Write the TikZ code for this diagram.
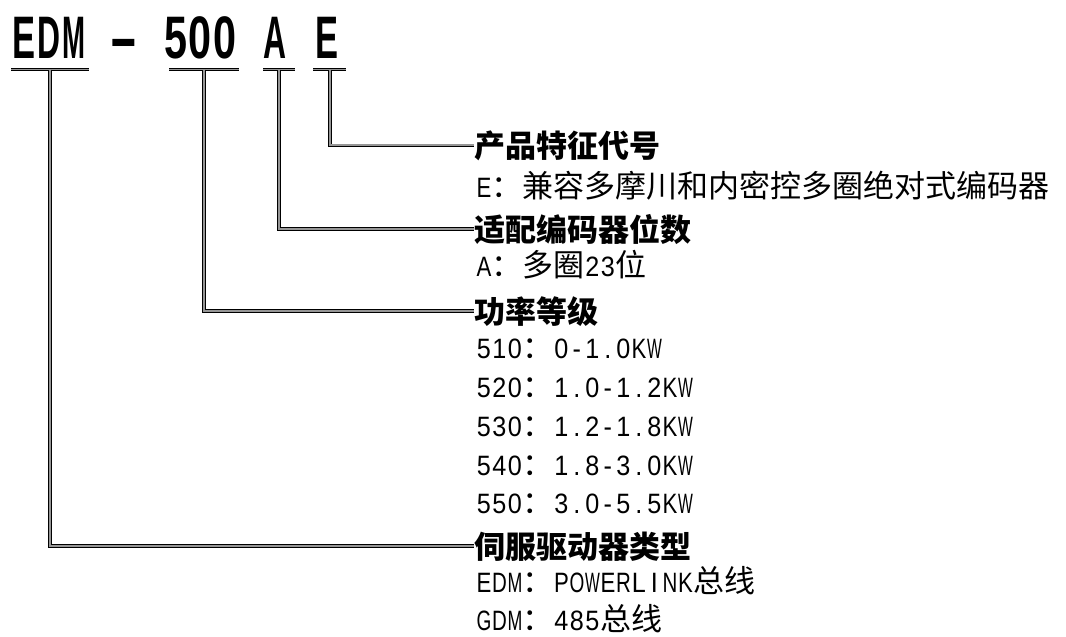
\documentclass[tikz,border=0pt]{standalone}
\usepackage{fontspec}
\usepackage{graphicx}
\setmainfont{Noto Sans CJK SC}
\newfontfamily\latfont[FakeStretch=0.9]{Liberation Sans}
\newfontfamily\ttlfont[FakeStretch=0.8]{Liberation Sans}
\makeatletter
\newsavebox\cell@box
\newdimen\cell@wd \newdimen\cell@max
\def\cell@put#1{\sbox\cell@box{#1}%
  \ifdim\wd\cell@box>\cell@max
    \hbox to \cell@wd{\hss\resizebox{\cell@max}{\height}{#1}\hss}%
  \else
    \hbox to \cell@wd{\hss#1\hss}%
  \fi}
\def\cell@loop#1{\ifx\relax#1\else\cell@put{#1}\expandafter\cell@loop\fi}
\newcommand\lat[1]{{\latfont\fontsize{28pt}{30pt}\selectfont
  \cell@wd=15.5pt \cell@max=14.8pt \cell@loop#1\relax}}
\newcommand\ttltext[1]{{\cell@wd=24.5pt \cell@max=23pt \cell@loop#1\relax}}
\makeatother
\definecolor{linegray}{RGB}{150,150,150}
\tikzset{
  conn/.style={draw=black, double=linegray, double distance=1.8pt, line width=0.9pt, line join=miter},
  ttl/.style={font=\ttlfont\bfseries\fontsize{60pt}{62pt}\selectfont, inner sep=0pt, anchor=base},
  head/.style={font=\bfseries\fontsize{31pt}{34pt}\selectfont, inner sep=0pt, anchor=base west},
  desc/.style={font=\fontsize{31pt}{34pt}\selectfont, inner sep=0pt, anchor=base west},
}
\begin{document}
\begin{tikzpicture}[x=1pt,y=-1pt]
\useasboundingbox[fill=white] (0,0) rectangle (1066,637);
% title parts
\node[ttl] (tEDM) at (49,58) {\ttltext{EDM}};
\node[ttl] (tdash) at (124,58) {\scalebox{1.8}[1]{-}};
\node[ttl] (t500) at (200,58) {\ttltext{500}};
\node[ttl] (tA) at (275,58) {\ttltext{A}};
\node[ttl] (tE) at (326.5,58) {\ttltext{E}};
% underline end points
\coordinate (uEDMa) at (11,69.5);  \coordinate (uEDMb) at (89,69.5);  \coordinate (sEDM) at (50,69.5);
\coordinate (u500a) at (169,69.5); \coordinate (u500b) at (239,69.5); \coordinate (s500) at (204,69.5);
\coordinate (uAa) at (263,69.5);   \coordinate (uAb) at (295,69.5);   \coordinate (sA) at (279,69.5);
\coordinate (uEa) at (313,69.5);   \coordinate (uEb) at (346,69.5);   \coordinate (sE) at (330,69.5);
% headings
\node[head] (hE) at (474,157) {产品特征代号};
\node[desc] (dE) at (476,197) {\lat{E}：兼容多摩川和内密控多圈绝对式编码器};
\node[head] (hA) at (474,241) {适配编码器位数};
\node[desc] (dA) at (476,276) {\lat{A}：多圈\lat{23}位};
\node[head] (h500) at (474,323) {功率等级};
\node[desc] (d510) at (476,358) {\lat{510}：\lat{0-1.0KW}};
\node[desc] (d520) at (476,397) {\lat{520}：\lat{1.0-1.2KW}};
\node[desc] (d530) at (476,436) {\lat{530}：\lat{1.2-1.8KW}};
\node[desc] (d540) at (476,475) {\lat{540}：\lat{1.8-3.0KW}};
\node[desc] (d550) at (476,513) {\lat{550}：\lat{3.0-5.5KW}};
\node[head] (hEDM) at (474,558) {伺服驱动器类型};
\node[desc] (dEDM) at (476,592) {\lat{EDM}：\lat{POWERLINK}总线};
\node[desc] (dGDM) at (476,630) {\lat{GDM}：\lat{485}总线};
% underlines
\draw[conn] (uEDMa) -- (uEDMb);
\draw[conn] (u500a) -- (u500b);
\draw[conn] (uAa) -- (uAb);
\draw[conn] (uEa) -- (uEb);
% connectors
\draw[conn] (sE) |- (hE.west);
\draw[conn] (sA) |- (hA.west);
\draw[conn] (s500) |- (h500.west);
\draw[conn] (sEDM) |- (hEDM.west);
\end{tikzpicture}
\end{document}
